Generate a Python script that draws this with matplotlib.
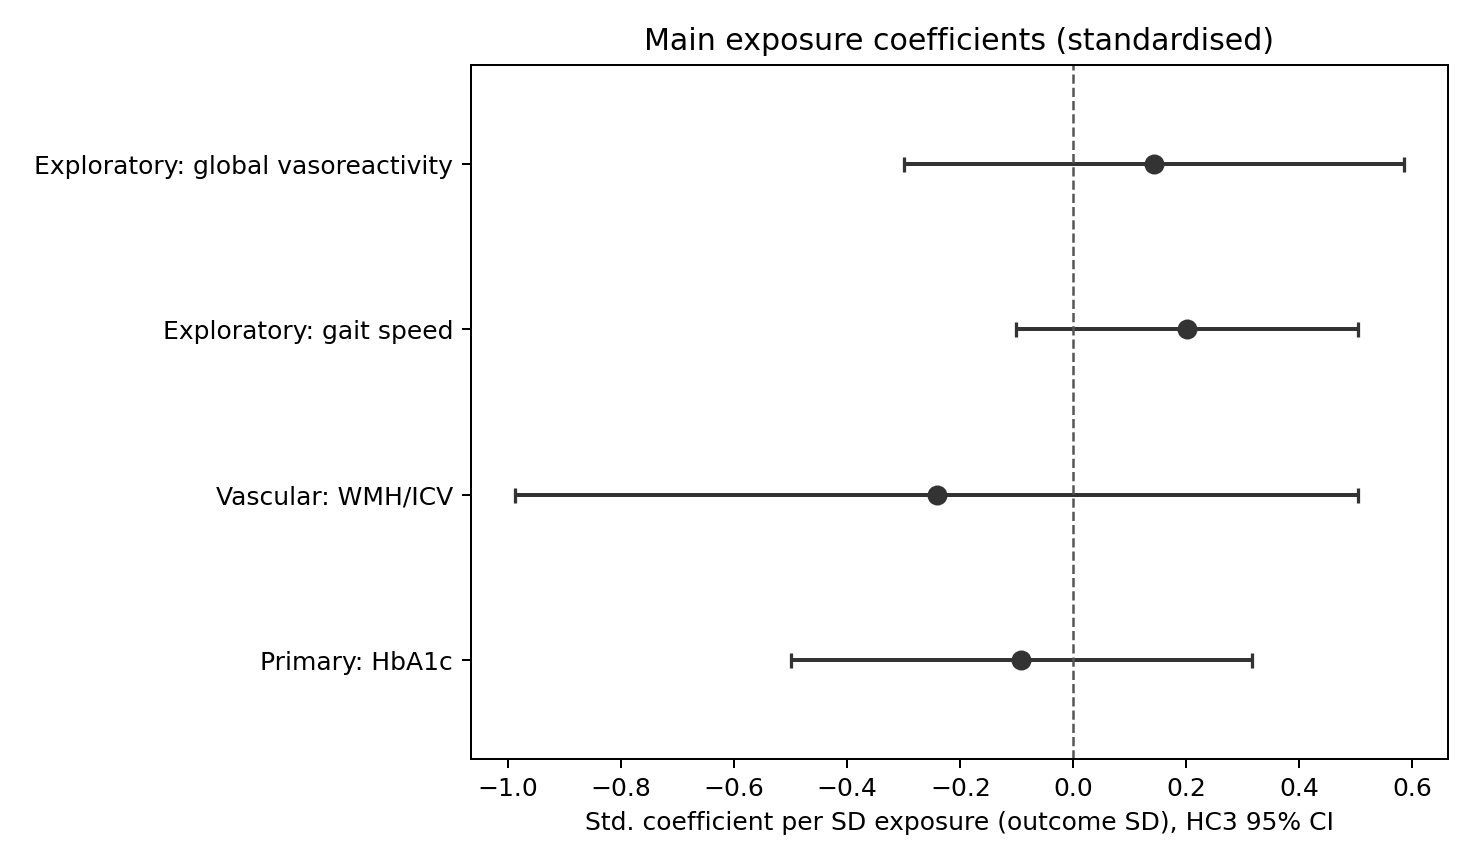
import numpy as np
import matplotlib
matplotlib.use("Agg")
import matplotlib.pyplot as plt

labels = ["Primary: HbA1c", "Vascular: WMH/ICV", "Exploratory: gait speed",
          "Exploratory: global vasoreactivity"]
coef = [-0.092, -0.242, 0.201, 0.143]
ci_low = [-0.500, -0.988, -0.101, -0.299]
ci_high = [0.316, 0.504, 0.504, 0.585]

coef = np.array(coef)
err = np.vstack([coef - np.array(ci_low), np.array(ci_high) - coef])
y = np.arange(len(labels))

DPI = 180
fig, ax = plt.subplots(figsize=(1475 / DPI, 864 / DPI), dpi=DPI)
ax.errorbar(coef, y, xerr=err, fmt="o", color="#333333", ecolor="#333333",
            elinewidth=1.6, capsize=3, capthick=1.3, markersize=7)
ax.axvline(0, color="#555555", linestyle="--", linewidth=1)
ax.set_yticks(y)
ax.set_yticklabels(labels)
ax.set_ylim(-0.6, 3.6)
ax.set_xlabel("Std. coefficient per SD exposure (outcome SD), HC3 95% CI")
ax.set_title("Main exposure coefficients (standardised)")
fig.subplots_adjust(left=0.319, right=0.982, top=0.925, bottom=0.121)
fig.savefig("out.png", dpi=DPI)
